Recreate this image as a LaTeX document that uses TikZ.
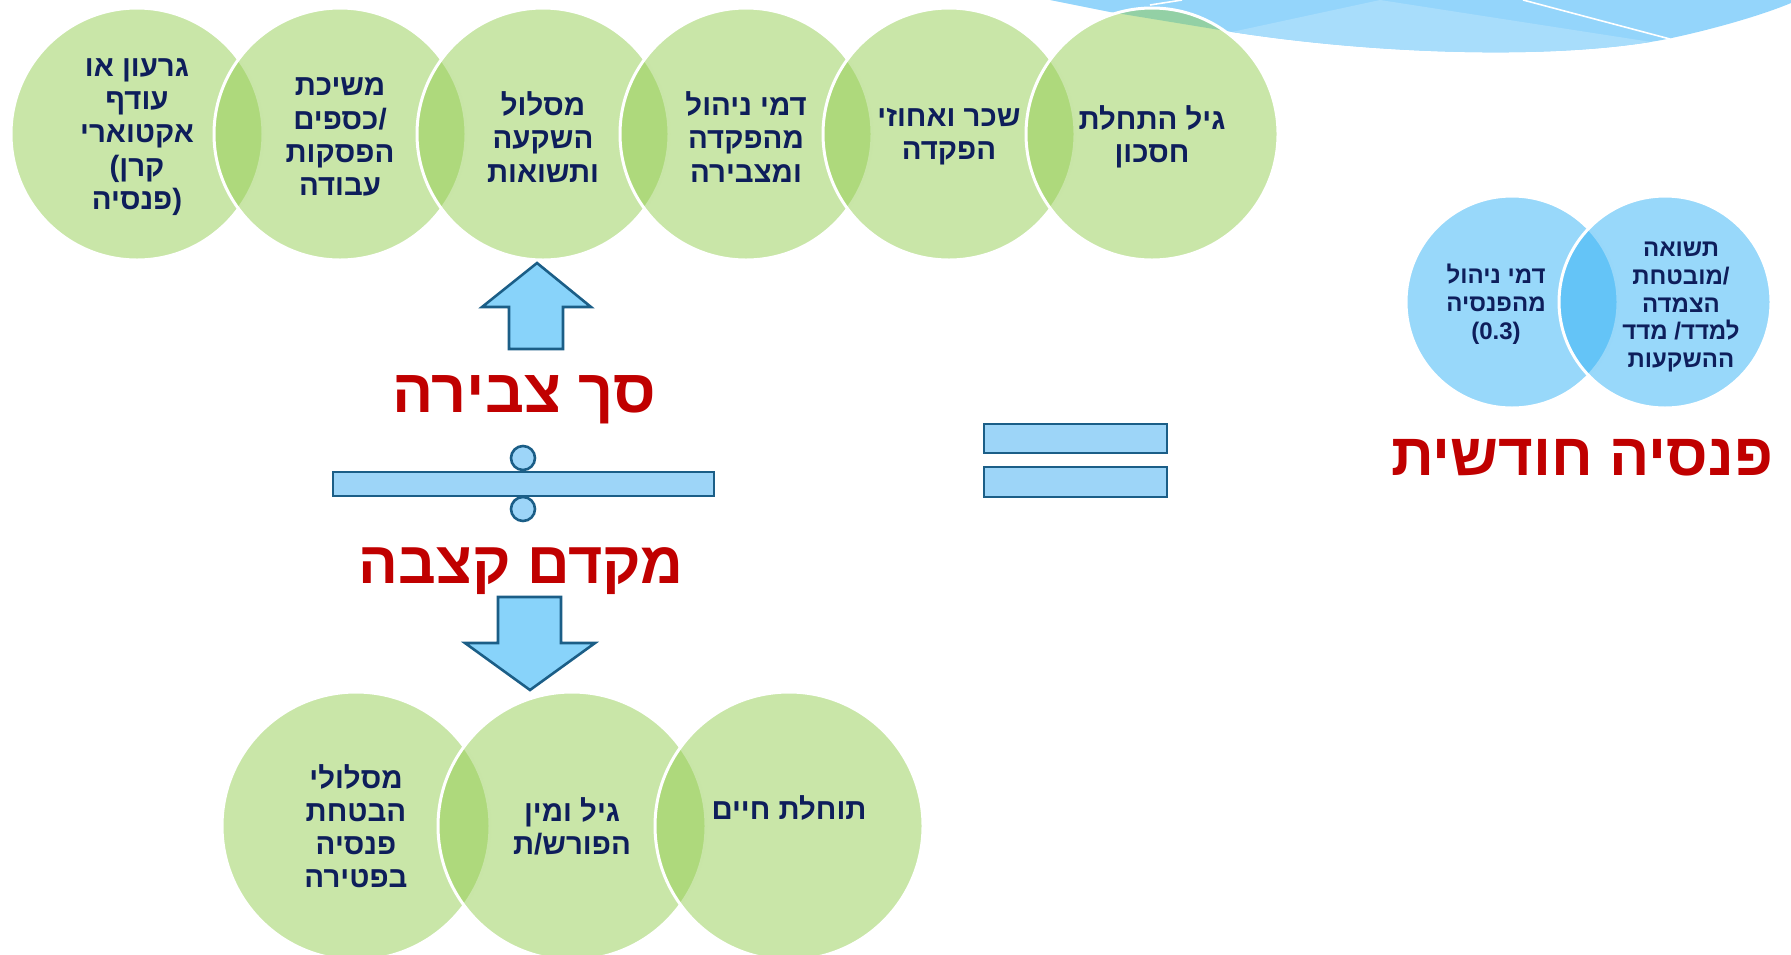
\documentclass[tikz,border=0pt]{standalone}
\usepackage{fontspec}
\newfontfamily\hebfont[Script=Hebrew]{Liberation Sans}
\newfontfamily\latinfont{Liberation Sans}
\TeXXeTstate=1
\newcommand{\heb}[1]{\beginR #1\endR}
\newcommand{\lat}[1]{\hbox{\latinfont\bfseries #1}}
\definecolor{ballgreen}{HTML}{93CD51}
\definecolor{ballblue}{HTML}{31B1F5}
\definecolor{navytext}{HTML}{0E1E5B}
\definecolor{titlered}{HTML}{C00000}
\definecolor{shapeline}{HTML}{1B5E87}
\definecolor{arrowfill}{HTML}{88D3FA}
\definecolor{barfill}{HTML}{9DD5F8}
\definecolor{wavedark}{HTML}{94D5FB}
\definecolor{wavelight}{HTML}{A8DDFB}
\tikzset{
  ball/.style={circle, inner sep=0pt, fill opacity=0.5, draw=white, line width=1.5pt},
  topball/.style={ball, fill=ballgreen, minimum size=126pt},
  lowball/.style={ball, fill=ballgreen, minimum size=134pt},
  payball/.style={ball, fill=ballblue, minimum size=106pt},
  balltext/.style={align=center, inner sep=0pt, text=navytext,
    font=\hebfont\bfseries\fontsize{14.7}{16.6}\selectfont},
  paytext/.style={balltext, font=\hebfont\bfseries\fontsize{12}{13.9}\selectfont},
  bigtitle/.style={anchor=base, inner sep=0pt, text=titlered,
    font=\hebfont\bfseries\fontsize{30.5}{36}\selectfont},
  blockshape/.style={draw=shapeline, line width=1.3pt, line join=miter}
}

\begin{document}
\begin{tikzpicture}[x=0.5pt,y=-0.5pt]
\useasboundingbox (0,0) rectangle (1791,954);
% wave in the corner
\fill[wavedark] (1050,0) -- (1110,12) -- (1232,32) .. controls (1380,55) and (1560,60) .. (1667,39)
  .. controls (1710,30) and (1760,16) .. (1791,3) -- (1791,0) -- cycle;
\begin{scope}
\clip (1050,0) -- (1110,12) -- (1232,32) .. controls (1380,55) and (1560,60) .. (1667,39)
  .. controls (1710,30) and (1760,16) .. (1791,3) -- (1791,0) -- cycle;
\fill[wavelight] (1380,0) -- (1690,48) -- (1690,90) -- (1190,90) -- (1190,41) -- cycle;
\end{scope}
\draw[white, line width=0.8pt] (1523,0) -- (1670,39);
\draw[white, line width=0.8pt] (1150,5) -- (1182,0);
%
\foreach \name/\x in {t1/137, t2/340, t3/543, t4/746, t5/949, t6/1152}
  \node[topball] (\name) at (\x,134) {};
\foreach \name/\x in {b1/356, b2/572, b3/789}
  \node[lowball] (\name) at (\x,826) {};
\node[payball] (p1) at (1512,302) {};
\node[payball] (p2) at (1665,302) {};
%
\node[balltext] (t1text) at (137,137) {\heb{גרעון או}\\\heb{עודף}\\\heb{אקטוארי}\\\lat{(}\heb{קרן}\\\heb{פנסיה}\lat{)}};
\node[balltext] (t2text) at (340,137) {\heb{משיכת}\\\heb{כספים}\lat{/}\\\heb{הפסקות}\\\heb{עבודה}};
\node[balltext] (t3text) at (543,137) {\heb{מסלול}\\\heb{השקעה}\\\heb{ותשואות}};
\node[balltext] (t4text) at (746,137) {\heb{דמי ניהול}\\\heb{מהפקדה}\\\heb{ומצבירה}};
\node[balltext] (t5text) at (949,137) {\heb{שכר ואחוזי}\\\heb{הפקדה}};
\node[balltext] (t6text) at (1152,137) {\heb{גיל התחלת}\\\heb{חסכון}};
\node[balltext] (b1text) at (b1) {\heb{מסלולי}\\\heb{הבטחת}\\\heb{פנסיה}\\\heb{בפטירה}};
\node[balltext] (b2text) at (b2) {\heb{גיל ומין}\\\heb{ת}\lat{/}\heb{הפורש}};
\node[balltext] (b3text) at (789,808) {\heb{תוחלת חיים}};
\node[paytext] (p1text) at (1496,304) {\heb{דמי ניהול}\\\heb{מהפנסיה}\\\lat{(0.3)}};
\node[paytext] (p2text) at (1681,307) {\heb{תשואה}\\\heb{מובטחת}\lat{/}\\\heb{הצמדה}\\\heb{מדד}\ \lat{/}\heb{למדד}\\\heb{ההשקעות}};
%
\node[bigtitle] (total) at (524,412) {\heb{סך צבירה}};
\node[bigtitle, font=\hebfont\bfseries\fontsize{29.5}{36}\selectfont] (factor) at (521,583) {\heb{מקדם קצבה}};
\node[bigtitle, font=\hebfont\bfseries\fontsize{29.8}{36}\selectfont] (monthly) at (1582,475) {\heb{פנסיה חודשית}};
%
\draw[blockshape, fill=arrowfill] (537,263) -- (591,307) -- (563,307) -- (563,349) -- (509,349) -- (509,307) -- (482,307) -- cycle;
\draw[blockshape, fill=arrowfill] (498,597) -- (561,597) -- (561,643) -- (595,643) -- (530,690) -- (465,643) -- (498,643) -- cycle;
\draw[blockshape, fill=barfill] (333,472) rectangle (714,496);
\draw[blockshape, fill=barfill] (523,458) circle[radius=6pt];
\draw[blockshape, fill=barfill] (523,509) circle[radius=6pt];
\draw[blockshape, fill=barfill] (984,424) rectangle (1167,453);
\draw[blockshape, fill=barfill] (984,467) rectangle (1167,497);
\end{tikzpicture}
\end{document}
